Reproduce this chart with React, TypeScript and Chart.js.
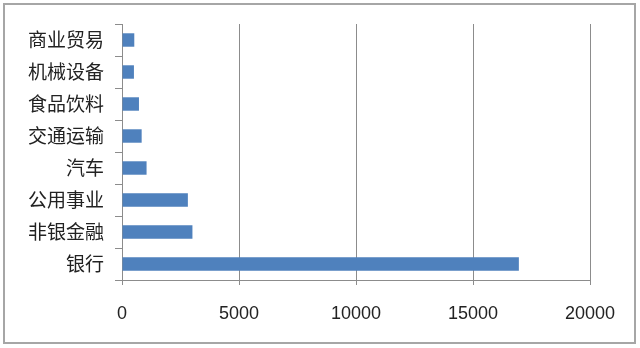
import React, { useEffect, useRef } from "react";
import { Chart, registerables } from "chart.js";

Chart.register(...registerables);

const categories = ["商业贸易", "机械设备", "食品饮料", "交通运输", "汽车", "公用事业", "非银金融", "银行"];
const values = [525, 510, 725, 840, 1050, 2815, 3010, 16960];
const xTicks = [0, 5000, 10000, 15000, 20000];

export default function App() {
  const ref = useRef<HTMLCanvasElement | null>(null);

  useEffect(() => {
    document.body.style.margin = "0";
    const ctx = ref.current;
    if (!ctx) return;
    const chart = new Chart(ctx, {
      type: "bar",
      data: {
        labels: categories,
        datasets: [
          {
            data: values,
            backgroundColor: "#4f81bd",
            borderWidth: 0,
            barPercentage: 0.42,
            categoryPercentage: 1,
          },
        ],
      },
      options: {
        indexAxis: "y",
        animation: false,
        responsive: false,
        maintainAspectRatio: false,
        layout: { padding: { left: 0, top: 24, right: 50, bottom: 0 } },
        plugins: { legend: { display: false }, tooltip: { enabled: false } },
        scales: {
          x: {
            min: 0,
            max: 20000,
            afterBuildTicks: (axis: any) => {
              axis.ticks = xTicks.map((v) => ({ value: v }));
            },
            afterFit: (axis: any) => {
              axis.height = 68;
            },
            grid: {
              color: "#8c8c8c",
              lineWidth: 1,
              tickLength: 5,
              drawOnChartArea: true,
            },
            border: { display: true, color: "#8c8c8c", width: 1 },
            ticks: {
              padding: 18,
              color: "#222",
              font: { family: "'Liberation Sans', Arial, sans-serif", size: 18 },
              maxRotation: 0,
              callback: (v: any) => String(v),
            },
          },
          y: {
            afterFit: (axis: any) => {
              axis.width = 122;
            },
            grid: {
              color: "#8c8c8c",
              lineWidth: 1,
              tickLength: 7,
              drawOnChartArea: false,
              offset: true,
            },
            border: { display: true, color: "#8c8c8c", width: 1 },
            ticks: {
              padding: 11,
              color: "#222",
              font: { family: "'Noto Sans CJK SC', sans-serif", size: 19 },
            },
          },
        },
      },
    });
    return () => chart.destroy();
  }, []);

  return (
    <div style={{ position: "absolute", left: 0, top: 0, width: 640, height: 348, background: "#fff" }}>
      <div
        style={{
          position: "absolute",
          left: 3,
          top: 3,
          width: 633,
          height: 341,
          border: "2px solid #a6a6a6",
          boxSizing: "border-box",
        }}
      />
      <canvas
        ref={ref}
        width={640}
        height={348}
        style={{ position: "absolute", left: 0, top: 0, width: 640, height: 348 }}
      />
    </div>
  );
}
